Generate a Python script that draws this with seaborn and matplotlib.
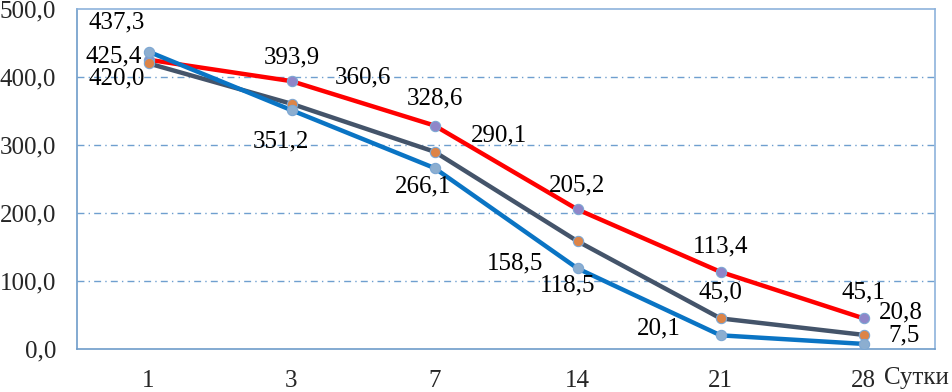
import seaborn as sns
import matplotlib.pyplot as plt
import pandas as pd

days = ["1", "3", "7", "14", "21", "28"]
red_vals = [425.4, 393.9, 328.6, 205.2, 113.4, 45.1]
gray_vals = [420.0, 360.6, 290.1, 158.5, 45.0, 20.8]
blue_vals = [437.3, 351.2, 266.1, 118.5, 20.1, 7.5]

series = {"red": red_vals, "gray": gray_vals, "blue": blue_vals}
line_colors = {"red": "#ff0000", "gray": "#44546a", "blue": "#0a74c4"}
marker_colors = {"red": "#8f86c9", "gray": "#dd8447", "blue": "#8caed0"}

# label offsets in pixels (dx, dy) relative to each point
offsets = {
    "red": [(-35, 3), (0, 24), (0, 27), (0, 24), (0, 25), (0, 26)],
    "gray": [(-32, -15), (71, 26), (65, 16), (-62, -22), (0, 26), (37, 22)],
    "blue": [(-32, 29), (-11, -31), (-11, -18), (-10, -17), (-62, 7), (41, 8)],
}

rows = []
for name, vals in series.items():
    for i, v in enumerate(vals):
        rows.append({"series": name, "pos": i, "value": v})
df = pd.DataFrame(rows)

sns.set_style("white")
plt.rcParams["font.family"] = ["Liberation Serif", "DejaVu Serif"]

fig = plt.figure(figsize=(9.52, 3.92), dpi=100)
ax = fig.add_axes([77 / 952, 43 / 392, 858 / 952, 340 / 392])

for lvl in [100, 200, 300, 400]:
    ax.axhline(lvl, color="#6f9fcf", lw=1, linestyle=(0, (5, 3, 1, 3)), zorder=1)

for name in ["red", "gray", "blue"]:
    sub = df[df["series"] == name]
    sns.lineplot(data=sub, x="pos", y="value", color=line_colors[name],
                 lw=3.2, ax=ax, zorder=3, legend=False)
    sns.scatterplot(data=sub, x="pos", y="value", color=marker_colors[name],
                    s=55, edgecolor="#7da7d3", linewidth=0.8, ax=ax,
                    zorder=4, legend=False)

for name, vals in series.items():
    for i, v in enumerate(vals):
        dx, dy = offsets[name][i]
        ax.annotate(f"{v:.1f}".replace(".", ","), (i, v), xytext=(dx, dy),
                    textcoords="offset pixels", ha="center", va="center",
                    fontsize=18, color="black", zorder=5)

ax.set_xlim(-0.5, 5.5)
ax.set_ylim(0, 500)
ax.set_xticks(range(len(days)))
ax.set_xticklabels(days)
ax.set_yticks([0, 100, 200, 300, 400, 500])
ax.set_yticklabels([f"{t:.1f}".replace(".", ",") for t in [0, 100, 200, 300, 400, 500]])
ax.tick_params(axis="both", labelsize=18, length=0)
ax.tick_params(axis="y", pad=15)
ax.tick_params(axis="x", pad=15)
ax.set_xlabel("")
ax.set_ylabel("")
for sp in ax.spines.values():
    sp.set_color("#8db3dc")
    sp.set_linewidth(1.2)
ax.spines["left"].set_color("#6e9cca")
ax.spines["bottom"].set_color("#6e9cca")

fig.text(916 / 952, 1 - 378 / 392, "Сутки", ha="center", va="center", fontsize=18)

fig.savefig("out.png", dpi=100)
